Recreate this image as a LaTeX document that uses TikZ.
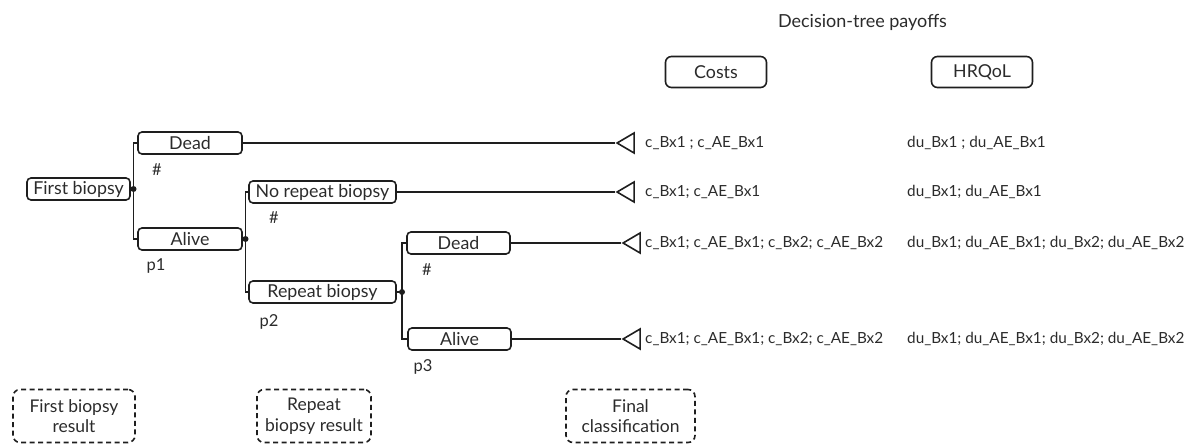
\documentclass[tikz,border=0pt]{standalone}
\usepackage{fontspec}
\setmainfont{Lato}
\usetikzlibrary{shapes.geometric}
\definecolor{ink}{HTML}{1E1E1E}
\definecolor{txt}{HTML}{2B2B2B}
\tikzset{
  every node/.style={text=txt},
  branch/.style={draw=ink, line width=1.6pt, rounded corners=4pt, minimum height=22pt, inner sep=0pt, font=\fontsize{17.8}{20}\selectfont},
  header/.style={draw=ink, line width=1.6pt, rounded corners=6pt, minimum height=31pt, minimum width=101pt, inner sep=0pt, font=\fontsize{17.8}{20}\selectfont},
  stage/.style={draw=ink, line width=1.6pt, dash pattern=on 5pt off 3.5pt, rounded corners=7pt, minimum height=53pt, inner sep=0pt, align=center, font=\fontsize{17.5}{20.5}\selectfont},
  edge/.style={draw=ink, line width=1.6pt},
  chance/.style={circle, fill=ink, inner sep=0pt, minimum size=6pt},
  terminal/.style={isosceles triangle, isosceles triangle stretches=true, shape border rotate=180, draw=ink, line width=1.6pt, minimum width=20pt, minimum height=17pt, inner sep=0pt},
  payoff/.style={anchor=west, inner sep=0pt, font=\fontsize{15.3}{18}\selectfont},
  prob/.style={inner sep=0pt, font=\fontsize{16.5}{19}\selectfont},
}
\begin{document}
\begin{tikzpicture}[x=1pt, y=-1pt]
\useasboundingbox (0,0) rectangle (1189,447);

% payoff headers
\node[inner sep=0pt, font=\fontsize{18}{21}\selectfont] (title) at (862.5,22) {Decision-tree payoffs};
\node[header] (costs) at (716,72) {Costs};
\node[header] (hrqol) at (982,72) {HRQoL};

% decision tree branches
\node[branch, minimum width=103pt] (fb) at (78.5,189) {First biopsy};
\node[branch, minimum width=104pt] (dead1) at (190,143) {Dead};
\node[branch, minimum width=104pt] (alive1) at (190,239) {Alive};
\node[branch, minimum width=147pt] (norep) at (322.5,192) {No repeat biopsy};
\node[branch, minimum width=147pt] (rep) at (322.5,292) {Repeat biopsy};
\node[branch, minimum width=103pt] (dead2) at (458.5,243) {Dead};
\node[branch, minimum width=103pt] (alive2) at (459.5,339) {Alive};

% chance points
\node[chance] (c1) at (133.5,189) {};
\node[chance] (c2) at (245.5,239) {};
\node[chance] (c3) at (402,292) {};

\draw[edge] (fb.east) -- (c1.center);
\draw[edge] (c1.center) |- (dead1.west);
\draw[edge] (c1.center) |- (alive1.west);
\draw[edge] (alive1.east) -- (c2.center);
\draw[edge] (c2.center) |- (norep.west);
\draw[edge] (c2.center) |- (rep.west);
\draw[edge] (rep.east) -- (c3.center);
\draw[edge] (c3.center) |- (dead2.west);
\draw[edge] (c3.center) |- (alive2.west);

% probabilities
\node[prob] (h1) at (157,170) {\#};
\node[prob] (p1) at (156,266) {p1};
\node[prob] (h2) at (274,218) {\#};
\node[prob] (p2) at (269,322) {p2};
\node[prob] (h3) at (427,270) {\#};
\node[prob] (p3) at (423,367) {p3};

% terminal nodes
\node[terminal, anchor=apex] (t1) at (615,143) {};
\node[terminal, anchor=apex] (t2) at (615,192) {};
\node[terminal, anchor=apex] (t3) at (621,243) {};
\node[terminal, anchor=apex] (t4) at (621,339) {};
\draw[edge] (dead1.east) -- (t1.apex);
\draw[edge] (norep.east) -- (t2.apex);
\draw[edge] (dead2.east) -- (t3.apex);
\draw[edge] (alive2.east) -- (t4.apex);

% payoffs: costs
\node[payoff] (cost1) at (645,143) {c\_Bx1 ; c\_AE\_Bx1};
\node[payoff] (cost2) at (645,192) {c\_Bx1; c\_AE\_Bx1};
\node[payoff] (cost3) at (645,243) {c\_Bx1; c\_AE\_Bx1; c\_Bx2; c\_AE\_Bx2};
\node[payoff] (cost4) at (645,339) {c\_Bx1; c\_AE\_Bx1; c\_Bx2; c\_AE\_Bx2};

% payoffs: HRQoL
\node[payoff] (qol1) at (907,143) {du\_Bx1 ; du\_AE\_Bx1};
\node[payoff] (qol2) at (907,192) {du\_Bx1; du\_AE\_Bx1};
\node[payoff] (qol3) at (907,243) {du\_Bx1; du\_AE\_Bx1; du\_Bx2; du\_AE\_Bx2};
\node[payoff] (qol4) at (907,339) {du\_Bx1; du\_AE\_Bx1; du\_Bx2; du\_AE\_Bx2};

% stages
\node[stage, minimum width=122pt] (s1) at (74,416) {First biopsy\\result};
\node[stage, minimum width=114pt] (s2) at (314,416) {Repeat\\biopsy result};
\node[stage, minimum width=129pt] (s3) at (630.5,416) {Final\\classification};
\end{tikzpicture}
\end{document}
